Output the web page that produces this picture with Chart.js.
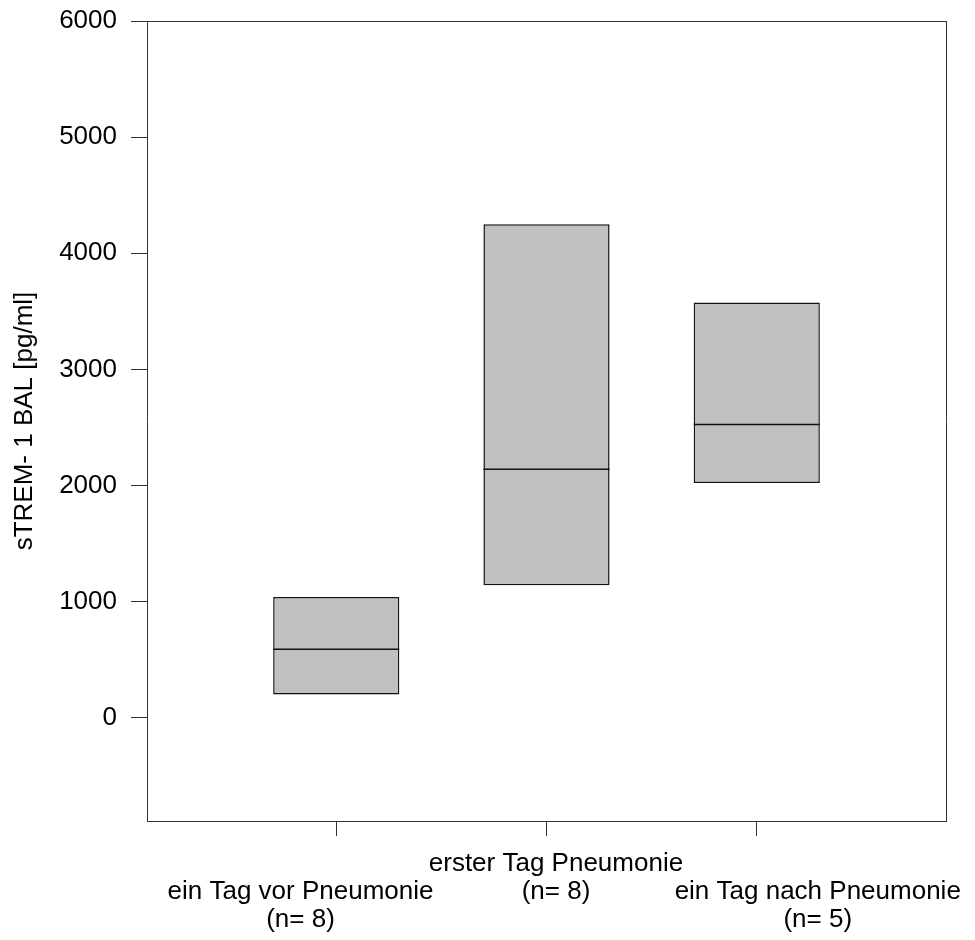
<!DOCTYPE html>
<html>
<head>
<meta charset="utf-8">
<script src="https://cdn.jsdelivr.net/npm/chart.js@4/dist/chart.umd.min.js"></script>
<style>
  body { margin: 0; background: #fff; }
</style>
</head>
<body>
<canvas id="boxCanvas" width="975" height="940"></canvas>
<script>
// data
const categories = ["ein Tag vor Pneumonie", "erster Tag Pneumonie", "ein Tag nach Pneumonie"];
const counts = [8, 8, 5];
const q1 = [200, 1140, 2020];
const q3 = [1040, 4250, 3575];
const median = [590, 2140, 2525];
const yTicks = [0, 1000, 2000, 3000, 4000, 5000, 6000];
const xPos = [1, 2, 3];

// where the category labels sit (they are staggered in the original)
const labelPos = [0.83, 2.045, 3.29];
const labelDrop = [true, false, true];

const font = { family: "'Liberation Sans', Arial, sans-serif", size: 26 };
const lineCol = "#333";

const boxData = xPos.map((x, i) => ({ x: x, y: [q1[i], q3[i]] }));
const medData = xPos.map((x, i) => ({ x: x, y: median[i] }));

const labelLines = categories.map((c, i) => {
    const lines = [c, "(n= " + counts[i] + ")"];
    return labelDrop[i] ? [""].concat(lines) : lines;
});

const canvas = document.getElementById("boxCanvas");

const boxChart = new Chart(canvas, {
    type: "bar",
    data: {
        datasets: [{
            order: 1,
            data: boxData,
            backgroundColor: "#c0c0c0",
            borderColor: "#111",
            borderWidth: 1.5,
            borderSkipped: false,
            barPercentage: 0.6,
            categoryPercentage: 1
        }, {
            // medians
            type: "line",
            order: 0,
            data: medData,
            showLine: false,
            pointStyle: "line",
            pointRadius: 63,
            pointHoverRadius: 63,
            pointBorderWidth: 1.5,
            pointBorderColor: "#111",
            pointBackgroundColor: "#111"
        }]
    },
    options: {
        responsive: false,
        animation: false,
        events: [],
        layout: { autoPadding: false, padding: { top: 21, right: 29, bottom: 0, left: 0 } },
        plugins: { legend: { display: false }, tooltip: { enabled: false } },
        scales: {
            x: {
                type: "linear",
                position: "bottom",
                weight: 0,
                offset: false,
                min: 0.1,
                max: 3.9,
                afterBuildTicks: s => { s.ticks = xPos.map(v => ({ value: v })); },
                ticks: { display: false },
                grid: { offset: false, drawOnChartArea: false, tickLength: 15, color: lineCol, lineWidth: 1 },
                border: { display: true, color: lineCol, width: 1 }
            },
            xl: {
                type: "linear",
                position: "bottom",
                weight: 1,
                offset: false,
                min: 0.1,
                max: 3.9,
                afterBuildTicks: s => { s.ticks = labelPos.map(v => ({ value: v })); },
                afterFit: s => { s.height = 104; s.paddingLeft = 0; s.paddingRight = 0; },
                ticks: {
                    autoSkip: false,
                    minRotation: 0,
                    maxRotation: 0,
                    padding: 14,
                    color: "#000",
                    font: Object.assign({ lineHeight: "28px" }, font),
                    callback: (v, i) => labelLines[i]
                },
                grid: { display: false, drawTicks: false },
                border: { display: false }
            },
            xt: {
                type: "linear",
                position: "top",
                min: 0.1,
                max: 3.9,
                ticks: { display: false },
                grid: { display: false, drawTicks: false },
                border: { display: true, color: lineCol, width: 1 }
            },
            y: {
                type: "linear",
                position: "left",
                min: -890,
                max: 6000,
                afterBuildTicks: s => { s.ticks = yTicks.map(v => ({ value: v })); },
                afterFit: s => { s.width = 147; s.paddingTop = 0; s.paddingBottom = 0; },
                ticks: { padding: 14, color: "#000", font: font, callback: v => String(v) },
                grid: { drawOnChartArea: false, tickLength: 16, color: lineCol, lineWidth: 1 },
                border: { display: true, color: lineCol, width: 1 },
                title: {
                    display: true,
                    text: "sTREM- 1 BAL [pg/ml]",
                    color: "#000",
                    font: font,
                    padding: { top: 9, bottom: 0 }
                }
            },
            yr: {
                type: "linear",
                position: "right",
                min: -890,
                max: 6000,
                ticks: { display: false },
                grid: { display: false, drawTicks: false },
                border: { display: true, color: lineCol, width: 1 }
            }
        }
    }
});
</script>
</body>
</html>
